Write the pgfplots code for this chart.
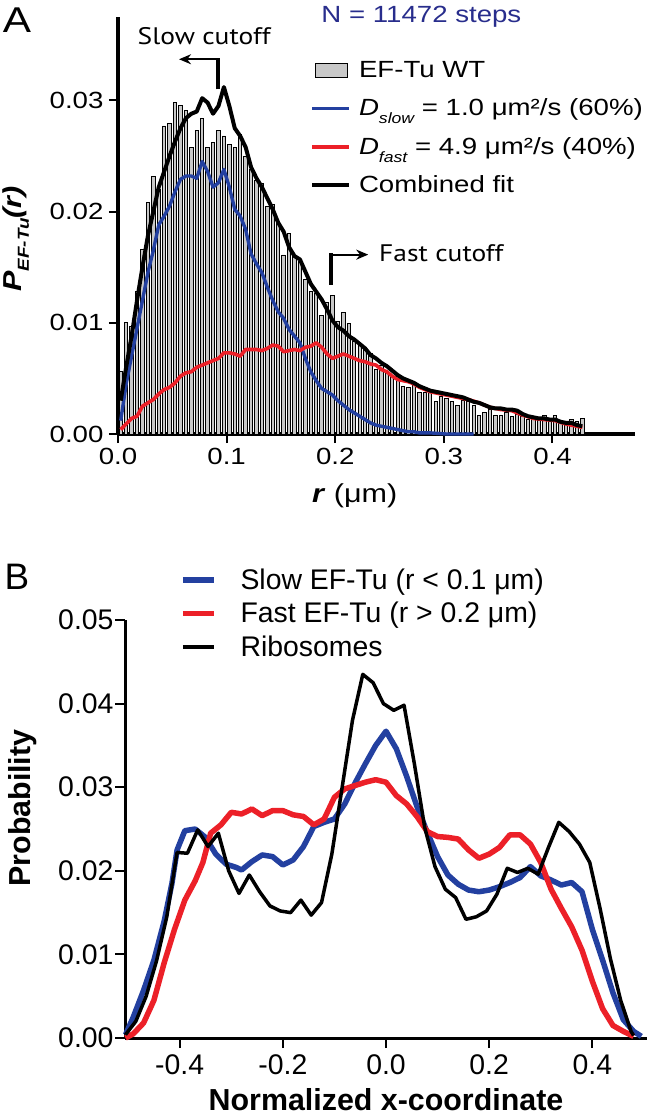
\documentclass[border=0pt]{standalone}
\usepackage{fontspec}
\setmainfont{Liberation Sans}
\newfontfamily\afont{Liberation Sans}[FakeStretch=1.18]
\newfontfamily\cutfont{PT Sans}[FakeStretch=1.15]
\usepackage{pgfplots}
\pgfplotsset{compat=1.18}
\usepackage{pgfplotstable}
\usetikzlibrary{arrows.meta}

\definecolor{slowblue}{RGB}{35,64,160}
\definecolor{fastred}{RGB}{236,32,40}
\definecolor{navytext}{RGB}{40,45,140}
\definecolor{bargray}{RGB}{200,200,200}

\pgfplotsset{
  histlegend/.style={legend image code/.code={\draw[##1,/tikz/.cd,line width=0.9bp] (3bp,-7bp) rectangle (35bp,7bp);}},
}

% ---------- Panel A: histogram ----------
\pgfplotstableread{
r p
0.0025 0.0056
0.0075 0.0100
0.0125 0.0097
0.0175 0.0128
0.0225 0.0166
0.0275 0.0208
0.0325 0.0232
0.0375 0.0220
0.0425 0.0277
0.0475 0.0279
0.0525 0.0298
0.0575 0.0295
0.0625 0.0291
0.0675 0.0258
0.0725 0.0273
0.0775 0.0284
0.0825 0.0258
0.0875 0.0262
0.0925 0.0273
0.0975 0.0268
0.1025 0.0260
0.1075 0.0258
0.1125 0.0269
0.1175 0.0250
0.1225 0.0238
0.1275 0.0228
0.1325 0.0225
0.1375 0.0205
0.1425 0.0206
0.1475 0.0190
0.1525 0.0161
0.1575 0.0180
0.1625 0.0160
0.1675 0.0155
0.1725 0.0139
0.1775 0.0128
0.1825 0.0126
0.1875 0.0107
0.1925 0.0118
0.1975 0.0125
0.2025 0.0101
0.2075 0.0109
0.2125 0.0099
0.2175 0.0083
0.2225 0.0080
0.2275 0.0076
0.2325 0.0072
0.2375 0.0058
0.2425 0.0062
0.2475 0.0055
0.2525 0.0052
0.2575 0.0053
0.2625 0.0043
0.2675 0.0042
0.2725 0.0046
0.2775 0.0037
0.2825 0.0037
0.2875 0.0037
0.2925 0.0029
0.2975 0.0034
0.3025 0.0032
0.3075 0.0029
0.3125 0.0026
0.3175 0.0030
0.3225 0.0029
0.3275 0.0026
0.3325 0.0017
0.3375 0.0019
0.3425 0.0022
0.3475 0.0017
0.3525 0.0017
0.3575 0.0019
0.3625 0.0016
0.3675 0.0018
0.3725 0.0016
0.3775 0.0013
0.3825 0.0013
0.3875 0.0012
0.3925 0.0017
0.3975 0.0013
0.4025 0.0017
0.4075 0.0011
0.4125 0.0011
0.4175 0.0013
0.4225 0.0011
0.4275 0.0014
}\histA

\pgfplotstableread{
r p
0.0025 0.0012
0.0075 0.0045
0.0125 0.0070
0.0175 0.0095
0.0225 0.0120
0.0275 0.0145
0.0325 0.0165
0.0375 0.0188
0.0425 0.0196
0.0475 0.0205
0.0525 0.0218
0.0575 0.0229
0.0625 0.0232
0.0675 0.0232
0.0725 0.0230
0.0775 0.0245
0.0825 0.0236
0.0875 0.0222
0.0925 0.0226
0.0975 0.0238
0.1025 0.0222
0.1075 0.0202
0.1125 0.0196
0.1175 0.0184
0.1225 0.0162
0.1275 0.0153
0.1325 0.0145
0.1375 0.0132
0.1425 0.0120
0.1475 0.0110
0.1525 0.0104
0.1575 0.0094
0.1625 0.0088
0.1675 0.0082
0.1725 0.0068
0.1775 0.0056
0.1825 0.0048
0.1875 0.0041
0.1925 0.0038
0.1975 0.0035
0.2025 0.0030
0.2075 0.0026
0.2125 0.0022
0.2175 0.0019
0.2225 0.0016
0.2275 0.0013
0.2325 0.0010
0.2375 0.0008
0.2425 0.0007
0.2475 0.0006
0.2525 0.0005
0.2575 0.0004
0.2625 0.0003
0.2675 0.0002
0.2725 0.0002
0.2775 0.0001
0.2875 0.0001
0.3025 0.0000
0.3275 0.0000
}\slowA

\pgfplotstableread{
r p
0.0025 0.0004
0.0075 0.0009
0.0125 0.0014
0.0175 0.0016
0.0225 0.0025
0.0275 0.0028
0.0325 0.0031
0.0375 0.0036
0.0425 0.0040
0.0475 0.0042
0.0525 0.0046
0.0575 0.0052
0.0625 0.0055
0.0675 0.0056
0.0725 0.0060
0.0775 0.0062
0.0825 0.0064
0.0875 0.0066
0.0925 0.0068
0.0975 0.0073
0.1025 0.0073
0.1075 0.0072
0.1125 0.0070
0.1175 0.0076
0.1225 0.0076
0.1275 0.0076
0.1325 0.0075
0.1375 0.0077
0.1425 0.0080
0.1475 0.0079
0.1525 0.0074
0.1575 0.0075
0.1625 0.0076
0.1675 0.0075
0.1725 0.0078
0.1775 0.0079
0.1825 0.0082
0.1875 0.0078
0.1925 0.0072
0.1975 0.0068
0.2025 0.0070
0.2075 0.0072
0.2125 0.0070
0.2175 0.0068
0.2225 0.0066
0.2275 0.0065
0.2325 0.0063
0.2375 0.0062
0.2425 0.0058
0.2475 0.0056
0.2525 0.0052
0.2575 0.0049
0.2625 0.0048
0.2675 0.0047
0.2725 0.0045
0.2775 0.0042
0.2825 0.0040
0.2875 0.0038
0.2925 0.0037
0.2975 0.0036
0.3025 0.0035
0.3125 0.0033
0.3225 0.0031
0.3325 0.0028
0.3425 0.0024
0.3525 0.0022
0.3625 0.0021
0.3725 0.0017
0.3825 0.0014
0.3925 0.0013
0.4025 0.0012
0.4125 0.0009
0.4225 0.0007
0.4275 0.0006
}\fastA

\pgfplotstableread{
r p
0.0025 0.0030
0.0075 0.0060
0.0125 0.0088
0.0175 0.0120
0.0225 0.0150
0.0275 0.0178
0.0325 0.0200
0.0375 0.0222
0.0425 0.0236
0.0475 0.0250
0.0525 0.0263
0.0575 0.0275
0.0625 0.0284
0.0675 0.0288
0.0725 0.0290
0.0775 0.0302
0.0825 0.0298
0.0875 0.0288
0.0925 0.0295
0.0975 0.0312
0.1025 0.0295
0.1075 0.0275
0.1125 0.0268
0.1175 0.0258
0.1225 0.0240
0.1275 0.0230
0.1325 0.0222
0.1375 0.0212
0.1425 0.0202
0.1475 0.0190
0.1525 0.0182
0.1575 0.0168
0.1625 0.0160
0.1675 0.0157
0.1725 0.0146
0.1775 0.0135
0.1825 0.0128
0.1875 0.0121
0.1925 0.0112
0.1975 0.0102
0.2025 0.0096
0.2075 0.0093
0.2125 0.0088
0.2175 0.0085
0.2225 0.0081
0.2275 0.0077
0.2325 0.0071
0.2375 0.0068
0.2425 0.0064
0.2475 0.0061
0.2525 0.0057
0.2575 0.0053
0.2625 0.0050
0.2675 0.0048
0.2725 0.0046
0.2775 0.0043
0.2825 0.0041
0.2875 0.0039
0.2925 0.0038
0.2975 0.0037
0.3025 0.0036
0.3075 0.0035
0.3125 0.0034
0.3175 0.0033
0.3225 0.0031
0.3275 0.0029
0.3325 0.0028
0.3375 0.0026
0.3425 0.0024
0.3475 0.0023
0.3525 0.0023
0.3575 0.0022
0.3625 0.0022
0.3675 0.0021
0.3725 0.0018
0.3775 0.0016
0.3825 0.0015
0.3875 0.0014
0.3925 0.0014
0.3975 0.0013
0.4025 0.0013
0.4075 0.0011
0.4125 0.0010
0.4175 0.0010
0.4225 0.0008
0.4275 0.0007
}\combA

% ---------- Panel B ----------
\pgfplotstableread{
x p
-0.505 0.0004
-0.490 0.0025
-0.470 0.0057
-0.450 0.0093
-0.430 0.0140
-0.415 0.0185
-0.405 0.0225
-0.390 0.0248
-0.370 0.0250
-0.350 0.0240
-0.330 0.0220
-0.310 0.0208
-0.290 0.0204
-0.280 0.0201
-0.260 0.0211
-0.240 0.0219
-0.220 0.0217
-0.200 0.0207
-0.180 0.0213
-0.160 0.0229
-0.140 0.0253
-0.120 0.0258
-0.100 0.0262
-0.080 0.0280
-0.060 0.0305
-0.040 0.0328
-0.020 0.0350
0.000 0.0367
0.020 0.0346
0.040 0.0313
0.060 0.0277
0.080 0.0246
0.100 0.0217
0.120 0.0195
0.140 0.0184
0.160 0.0177
0.180 0.0175
0.200 0.0177
0.220 0.0181
0.240 0.0186
0.260 0.0192
0.280 0.0205
0.300 0.0194
0.320 0.0189
0.340 0.0183
0.360 0.0186
0.380 0.0175
0.400 0.0130
0.420 0.0093
0.440 0.0054
0.460 0.0022
0.480 0.0008
0.495 0.0002
}\slowB

\pgfplotstableread{
x p
-0.505 0.0000
-0.490 0.0005
-0.470 0.0018
-0.450 0.0045
-0.430 0.0090
-0.410 0.0130
-0.390 0.0165
-0.370 0.0188
-0.355 0.0210
-0.340 0.0245
-0.320 0.0255
-0.300 0.0270
-0.280 0.0268
-0.260 0.0274
-0.240 0.0266
-0.220 0.0272
-0.200 0.0272
-0.180 0.0267
-0.160 0.0265
-0.140 0.0255
-0.120 0.0262
-0.100 0.0288
-0.080 0.0298
-0.060 0.0302
-0.040 0.0306
-0.020 0.0309
0.000 0.0306
0.020 0.0290
0.040 0.0280
0.060 0.0265
0.080 0.0247
0.100 0.0241
0.120 0.0240
0.140 0.0238
0.160 0.0225
0.180 0.0215
0.200 0.0220
0.220 0.0228
0.240 0.0243
0.260 0.0243
0.280 0.0232
0.300 0.0210
0.320 0.0178
0.340 0.0155
0.360 0.0133
0.380 0.0105
0.400 0.0068
0.420 0.0035
0.440 0.0015
0.460 0.0008
0.480 0.0002
}\fastB

\pgfplotstableread{
x p
-0.505 0.0004
-0.485 0.0020
-0.465 0.0050
-0.445 0.0092
-0.425 0.0145
-0.405 0.0222
-0.385 0.0221
-0.365 0.0249
-0.345 0.0229
-0.325 0.0245
-0.305 0.0200
-0.285 0.0173
-0.265 0.0195
-0.245 0.0175
-0.225 0.0158
-0.205 0.0152
-0.185 0.0150
-0.165 0.0165
-0.145 0.0147
-0.125 0.0162
-0.105 0.0220
-0.085 0.0300
-0.065 0.0380
-0.045 0.0435
-0.025 0.0425
-0.005 0.0400
0.015 0.0392
0.035 0.0398
0.055 0.0328
0.075 0.0252
0.095 0.0205
0.115 0.0178
0.135 0.0168
0.155 0.0142
0.175 0.0145
0.195 0.0152
0.215 0.0172
0.235 0.0203
0.255 0.0198
0.275 0.0203
0.295 0.0196
0.315 0.0228
0.335 0.0258
0.355 0.0247
0.375 0.0232
0.395 0.0210
0.415 0.0155
0.435 0.0095
0.455 0.0045
0.475 0.0008
0.480 0.0003
}\riboB

\begin{document}
\begin{tikzpicture}[x=1bp,y=1bp]
\useasboundingbox (0,0) rectangle (650,-1117);

\node[font=\afont\fontsize{36}{36}\selectfont] at (17,-20) {A};
\node[font=\fontsize{37}{37}\selectfont] at (17,-577) {B};

% ================= Panel A =================
\begin{axis}[
  at={(118bp,-434bp)}, anchor=south west,
  scale only axis, width=517bp, height=417bp,
  xmin=0, xmax=0.476, ymin=0, ymax=0.0375,
  scaled x ticks=false, scaled y ticks=false,
  axis lines=left, axis line style={-, line width=3.5bp},
  clip=false,
  xtick={0,0.1,0.2,0.3,0.4}, xticklabels={0.0,0.1,0.2,0.3,0.4},
  ytick={0,0.01,0.02,0.03}, yticklabels={0.00,0.01,0.02,0.03},
  tick align=outside, major tick length=9bp,
  tick style={line width=2bp, black},
  tick label style={font=\afont\fontsize{23.5}{26}\selectfont},
  xticklabel style={yshift=-2bp},
  yticklabel style={xshift=-2bp},
  xlabel={\afont\fontsize{26}{28}\selectfont\textbf{\textit{r}} (μm)},
  xlabel style={at={(axis description cs:0.458,-0.147)}, anchor=center},
  ylabel={\afont\fontsize{26}{28}\selectfont\bfseries\itshape P\raisebox{-7bp}{\fontsize{16}{16}\selectfont EF-Tu}(r)},
  ylabel style={at={(axis description cs:-0.197,0.468)}, anchor=center, rotate=0},
  legend style={at={(0.371,0.894)}, anchor=north west, draw=none, fill=none,
    font=\afont\fontsize{23.5}{26}\selectfont, row sep=20bp, inner sep=0pt,
    nodes={inner sep=0pt},
    /tikz/every odd column/.append style={column sep=8bp}},
  legend cell align=left,
  legend image code/.code={\draw[#1] (0bp,0bp) -- (37bp,0bp);},
]
\addplot[ybar, bar width=0.0031, fill=bargray, draw=black, line width=0.95bp, histlegend]
  table[x=r,y=p]{\histA};
\addlegendentry{EF-Tu WT}
\addplot[slowblue, line width=3.4bp, line join=round] table[x=r,y=p]{\slowA};
\addlegendentry{\textit{D}\raisebox{-8bp}{\fontsize{15}{15}\selectfont\itshape slow} = 1.0 μm²/s (60\%)}
\addplot[fastred, line width=3.6bp, line join=round] table[x=r,y=p]{\fastA};
\addlegendentry{\textit{D}\raisebox{-8bp}{\fontsize{15}{15}\selectfont\itshape fast} = 4.9 μm²/s (40\%)}
\addplot[black, line width=4bp, line join=round] table[x=r,y=p]{\combA};
\addlegendentry{Combined fit}

% annotations
\node[font=\afont\fontsize{23.5}{26}\selectfont, text=navytext, anchor=west, inner sep=0pt] at (axis cs:0.1871,0.03752) {N = 11472 steps};
\node[font=\cutfont\fontsize{24}{26}\selectfont] at (axis cs:0.0793,0.03577) {Slow cutoff};
\node[font=\cutfont\fontsize{24}{26}\selectfont] at (axis cs:0.2977,0.0163) {Fast cutoff};
\draw[line width=3.5bp] (axis cs:0.0922,0.0310) -- (axis cs:0.0922,0.03385);
\draw[line width=2.2bp, -{Stealth[length=12bp,width=10bp]}] (axis cs:0.0937,0.0337) -- (axis cs:0.0562,0.0337);
\draw[line width=3.5bp] (axis cs:0.196,0.01342) -- (axis cs:0.196,0.01628);
\draw[line width=2.2bp, -{Stealth[length=12bp,width=10bp]}] (axis cs:0.1945,0.01613) -- (axis cs:0.2304,0.01613);
\end{axis}

% ================= Panel B =================
\begin{axis}[
  at={(125bp,-1038bp)}, anchor=south west,
  scale only axis, width=522bp, height=418bp,
  xmin=-0.506, xmax=0.506, ymin=0, ymax=0.05,
  scaled x ticks=false, scaled y ticks=false,
  axis lines=left, axis line style={-, line width=3bp},
  clip=false,
  xtick={-0.4,-0.2,0,0.2,0.4}, xticklabels={-0.4,-0.2,0.0,0.2,0.4},
  ytick={0,0.01,0.02,0.03,0.04,0.05}, yticklabels={0.00,0.01,0.02,0.03,0.04,0.05},
  tick align=outside, major tick length=10bp,
  tick style={line width=2bp, black},
  tick label style={font=\fontsize{28.5}{30}\selectfont},
  xticklabel style={yshift=-3bp},
  yticklabel style={xshift=2bp},
  xlabel={\fontsize{30.5}{32}\selectfont\bfseries Normalized x-coordinate},
  xlabel style={at={(axis description cs:0.5,-0.148)}, anchor=center},
  ylabel={\fontsize{30.5}{32}\selectfont\bfseries Probability},
  ylabel style={at={(axis description cs:-0.197,0.55)}, anchor=center, rotate=0},
  legend style={at={(0.105,1.123)}, anchor=north west, draw=none, fill=none,
    font=\fontsize{28.5}{30}\selectfont, row sep=11.5bp, inner sep=0pt,
    nodes={inner sep=0pt},
    /tikz/every odd column/.append style={column sep=24bp}},
  legend cell align=left,
  legend image code/.code={\draw[#1] (0bp,0bp) -- (31bp,0bp);},
]
\addplot[slowblue, line width=5.5bp, line join=round] table[x=x,y=p]{\slowB};
\addlegendentry{Slow EF-Tu (r < 0.1 μm)}
\addplot[fastred, line width=5.5bp, line join=round] table[x=x,y=p]{\fastB};
\addlegendentry{Fast EF-Tu (r > 0.2 μm)}
\addplot[black, line width=3.5bp, line join=round] table[x=x,y=p]{\riboB};
\addlegendentry{Ribosomes}
\end{axis}
\end{tikzpicture}
\end{document}
